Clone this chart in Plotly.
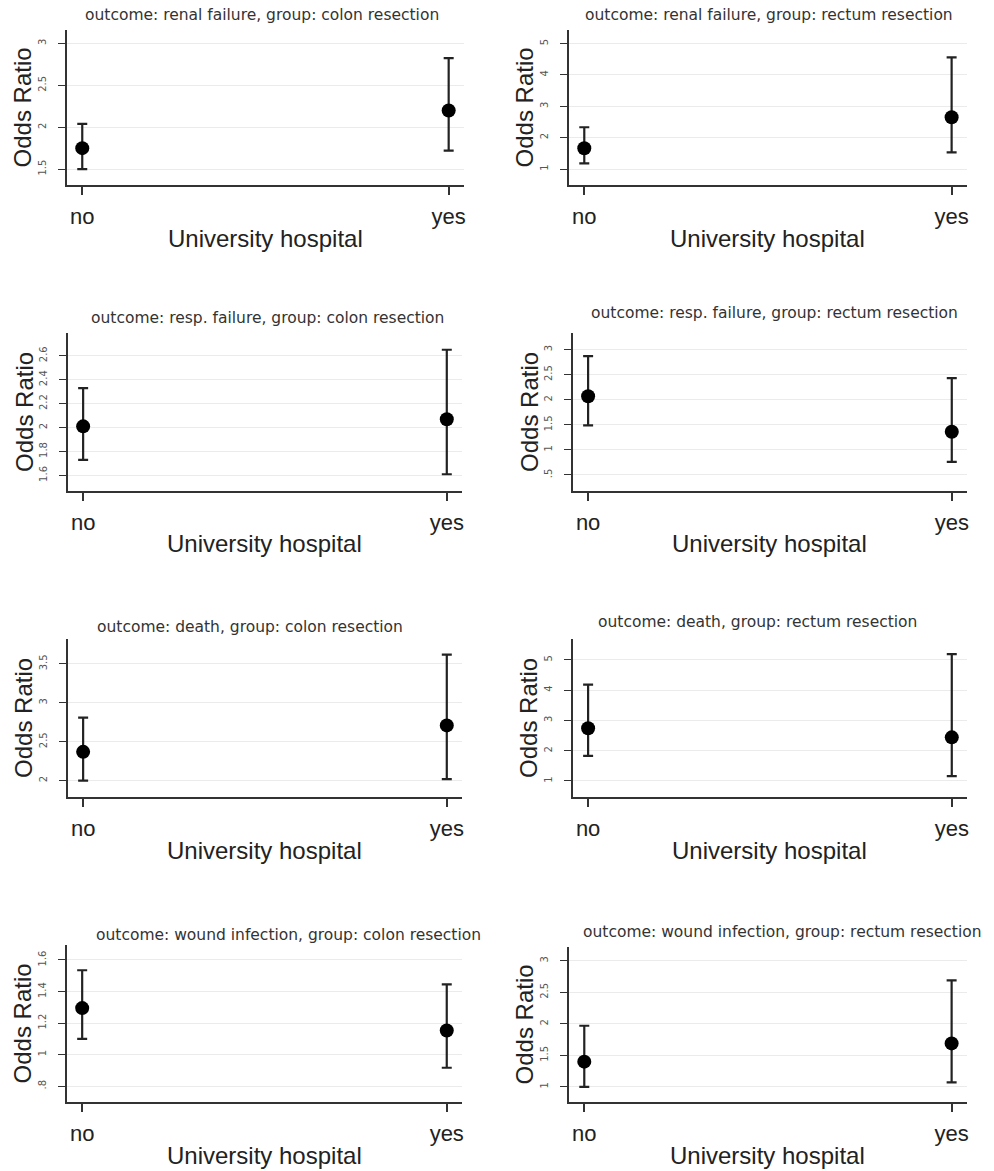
import plotly.graph_objects as go

# ---------------- data ----------------
categories = ["no", "yes"]
panel_titles = [
    "outcome: renal failure, group: colon resection",
    "outcome: renal failure, group: rectum resection",
    "outcome: resp. failure, group: colon resection",
    "outcome: resp. failure, group: rectum resection",
    "outcome: death, group: colon resection",
    "outcome: death, group: rectum resection",
    "outcome: wound infection, group: colon resection",
    "outcome: wound infection, group: rectum resection",
]
or_no = [1.75, 1.66, 2.01, 2.07, 2.37, 2.74, 1.295, 1.40]
lo_no = [1.50, 1.18, 1.73, 1.49, 2.00, 1.83, 1.10, 1.00]
hi_no = [2.04, 2.33, 2.33, 2.87, 2.81, 4.18, 1.535, 1.97]
or_yes = [2.20, 2.65, 2.07, 1.36, 2.71, 2.44, 1.153, 1.69]
lo_yes = [1.72, 1.53, 1.61, 0.76, 2.02, 1.16, 0.917, 1.07]
hi_yes = [2.825, 4.56, 2.65, 2.43, 3.62, 5.19, 1.446, 2.69]

ytick_vals = [
    [1.5, 2, 2.5, 3],
    [1, 2, 3, 4, 5],
    [1.6, 1.8, 2, 2.2, 2.4, 2.6],
    [0.5, 1, 1.5, 2, 2.5, 3],
    [2, 2.5, 3, 3.5],
    [1, 2, 3, 4, 5],
    [0.8, 1, 1.2, 1.4, 1.6],
    [1, 1.5, 2, 2.5, 3],
]
ytick_text = [
    ["1.5", "2", "2.5", "3"],
    ["1", "2", "3", "4", "5"],
    ["1.6", "1.8", "2", "2.2", "2.4", "2.6"],
    [".5", "1", "1.5", "2", "2.5", "3"],
    ["2", "2.5", "3", "3.5"],
    ["1", "2", "3", "4", "5"],
    [".8", "1", "1.2", "1.4", "1.6"],
    ["1", "1.5", "2", "2.5", "3"],
]
y_ranges = [
    [1.31, 3.16], [0.49, 5.43], [1.47, 2.79], [0.18, 3.33],
    [1.79, 3.82], [0.47, 5.69], [0.70, 1.695], [0.76, 3.22],
]

# ---------------- layout geometry (pixels) ----------------
W, H = 994, 1171
# x0, x1, ytop, ybottom of each plot region
boxes = [
    (67, 465, 30, 185), (570, 969, 30, 185),
    (68, 463, 333, 491), (574, 969, 333, 491),
    (68, 463, 639, 797), (574, 969, 639, 797),
    (67, 463, 945, 1102), (570, 969, 947, 1102),
]
title_pos = [
    (263, 15), (771, 15), (268, 318), (776, 313),
    (251, 627), (759, 622), (289, 935), (784, 932),
]

AX = "#333333"
fig = go.Figure()
annotations = []
layout_axes = {}

for i in range(8):
    n = i + 1
    xa = "x" if n == 1 else f"x{n}"
    ya = "y" if n == 1 else f"y{n}"
    x0, x1, yt, yb = boxes[i]
    fig.add_trace(go.Scatter(
        x=categories,
        y=[or_no[i], or_yes[i]],
        mode="markers",
        marker=dict(color="black", size=14),
        error_y=dict(
            type="data", symmetric=False,
            array=[hi_no[i] - or_no[i], hi_yes[i] - or_yes[i]],
            arrayminus=[or_no[i] - lo_no[i], or_yes[i] - lo_yes[i]],
            color="#222222", thickness=2.2, width=5,
        ),
        xaxis=xa, yaxis=ya, showlegend=False, hoverinfo="skip",
    ))
    xkey = "xaxis" if n == 1 else f"xaxis{n}"
    ykey = "yaxis" if n == 1 else f"yaxis{n}"
    layout_axes[xkey] = dict(
        domain=[x0 / W, x1 / W], anchor=ya,
        type="category", range=[-0.042, 1.042],
        showline=True, linecolor=AX, linewidth=2,
        ticks="outside", ticklen=8, tickwidth=1.5, tickcolor=AX,
        showgrid=False, zeroline=False,
        tickfont=dict(family="Liberation Sans, Arial", size=22, color="#222222"),
        ticklabelstandoff=3,
    )
    layout_axes[ykey] = dict(
        domain=[1 - yb / H, 1 - yt / H], anchor=xa,
        range=y_ranges[i],
        tickmode="array", tickvals=ytick_vals[i], ticktext=ytick_text[i],
        tickangle=-90,
        showline=True, linecolor=AX, linewidth=2,
        ticks="outside", ticklen=7, tickwidth=1.2, tickcolor=AX,
        showgrid=True, gridcolor="#ebebeb", gridwidth=1,
        zeroline=False,
        tickfont=dict(family="DejaVu Sans", size=10, color="#555555"),
        ticklabelstandoff=8,
    )
    tx, ty = title_pos[i]
    annotations.append(dict(
        text=panel_titles[i], x=tx / W, y=1 - ty / H, xref="paper", yref="paper",
        xanchor="center", yanchor="middle", showarrow=False,
        font=dict(family="DejaVu Sans", size=15.5, color="#333333"),
    ))
    annotations.append(dict(
        text="University hospital", x=(x0 + x1) / 2 / W, y=1 - (yb + 53) / H,
        xref="paper", yref="paper", xanchor="center", yanchor="middle",
        showarrow=False,
        font=dict(family="Liberation Sans, Arial", size=24, color="#222222"),
    ))
    annotations.append(dict(
        text="Odds Ratio", x=(x0 - 44) / W, y=1 - (yt + yb) / 2 / H,
        xref="paper", yref="paper", xanchor="center", yanchor="middle",
        textangle=-90, showarrow=False,
        font=dict(family="Liberation Sans, Arial", size=24, color="#222222"),
    ))

fig.update_layout(
    width=W, height=H,
    margin=dict(l=0, r=0, t=0, b=0),
    paper_bgcolor="white", plot_bgcolor="white",
    annotations=annotations,
    **layout_axes,
)

fig.write_html("out.html")
